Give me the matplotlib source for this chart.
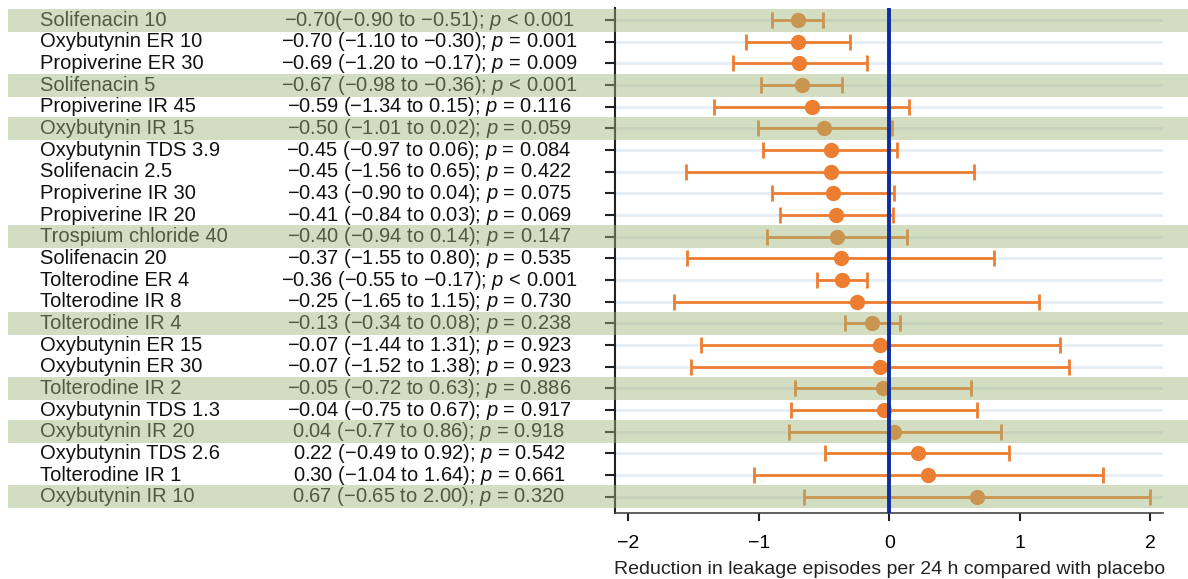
import matplotlib.pyplot as plt
import matplotlib.transforms as mtransforms
import numpy as np

plt.rcParams['font.family'] = ['Liberation Sans', 'DejaVu Sans']
plt.rcParams['mathtext.fontset'] = 'custom'
plt.rcParams['mathtext.rm'] = 'Liberation Sans'
plt.rcParams['mathtext.it'] = 'Liberation Sans:italic'

# Treatments, top to bottom
drugs = ['Solifenacin 10', 'Oxybutynin ER 10', 'Propiverine ER 30', 'Solifenacin 5',
         'Propiverine IR 45', 'Oxybutynin IR 15', 'Oxybutynin TDS 3.9', 'Solifenacin 2.5',
         'Propiverine IR 30', 'Propiverine IR 20', 'Trospium chloride 40', 'Solifenacin 20',
         'Tolterodine ER 4', 'Tolterodine IR 8', 'Tolterodine IR 4', 'Oxybutynin ER 15',
         'Oxybutynin ER 30', 'Tolterodine IR 2', 'Oxybutynin TDS 1.3', 'Oxybutynin IR 20',
         'Oxybutynin TDS 2.6', 'Tolterodine IR 1', 'Oxybutynin IR 10']
estimate = [-0.70, -0.70, -0.69, -0.67, -0.59, -0.50, -0.45, -0.45, -0.43, -0.41, -0.40, -0.37,
            -0.36, -0.25, -0.13, -0.07, -0.07, -0.05, -0.04, 0.04, 0.22, 0.30, 0.67]
ci_low = [-0.90, -1.10, -1.20, -0.98, -1.34, -1.01, -0.97, -1.56, -0.90, -0.84, -0.94, -1.55,
          -0.55, -1.65, -0.34, -1.44, -1.52, -0.72, -0.75, -0.77, -0.49, -1.04, -0.65]
ci_high = [-0.51, -0.30, -0.17, -0.36, 0.15, 0.02, 0.06, 0.65, 0.04, 0.03, 0.14, 0.80,
           -0.17, 1.15, 0.08, 1.31, 1.38, 0.63, 0.67, 0.86, 0.92, 1.64, 2.00]
p_text = ['< 0.001', '= 0.001', '= 0.009', '< 0.001', '= 0.116', '= 0.059', '= 0.084', '= 0.422',
          '= 0.075', '= 0.069', '= 0.147', '= 0.535', '< 0.001', '= 0.730', '= 0.238', '= 0.923',
          '= 0.923', '= 0.886', '= 0.917', '= 0.918', '= 0.542', '= 0.661', '= 0.320']
shaded = [0, 3, 5, 10, 14, 17, 19, 22]
x_ticks = [-2, -1, 0, 1, 2]


def fmt(v):
    return f'{v:.2f}'.replace('-', '\u2212')


est = np.array(estimate)
lo = np.array(ci_low)
hi = np.array(ci_high)
y = np.arange(len(drugs))
orange = '#ED7D31'

fig = plt.figure(figsize=(11.88, 5.79), dpi=100)
ax = fig.add_axes([0.518, 0.114, 0.461, 0.872])

ax.errorbar(est, y, xerr=[est - lo, hi - est], fmt='o', color=orange, ecolor=orange,
            elinewidth=2, capsize=6, capthick=2, markersize=10, zorder=3)
# zero line sits above the bands so it keeps its colour
ax.axvline(0, color='#0A2FA0', lw=2.8, zorder=12)

ax.set_xlim(-2.1, 2.1)
ax.set_ylim(len(drugs) - 0.25, -0.55)
ax.set_yticks(y)
ax.set_yticklabels([])
ax.set_xticks(x_ticks)
ax.set_xticklabels([str(t).replace('-', '\u2212') for t in x_ticks], fontsize=14)
ax.tick_params(axis='y', length=7, width=1.5, color='#222222')
ax.tick_params(axis='x', length=6, width=1.5, color='#222222', pad=10)
ax.grid(axis='y', color='#E6EDF4', lw=2)
ax.set_axisbelow(True)
for s in ['top', 'right']:
    ax.spines[s].set_visible(False)
ax.spines['left'].set_linewidth(1.5)
ax.spines['left'].set_color('#222222')
ax.spines['bottom'].set_linewidth(1.2)
ax.spines['bottom'].set_color('#444444')
ax.set_xlabel('Reduction in leakage episodes per 24 h compared with placebo', fontsize=14,
              labelpad=6, color='#222222')

# left-hand table: names and estimates with 95% CI
trans = mtransforms.blended_transform_factory(fig.transFigure, ax.transData)
for i in range(len(drugs)):
    stats = f'{fmt(est[i])} ({fmt(lo[i])} to {fmt(hi[i])}); $p$ {p_text[i]}'
    if i == 0:
        stats = stats.replace(' (', '(')
    ax.text(40 / 1188, i, drugs[i], transform=trans, fontsize=14.5, va='center', ha='left',
            color='#111111', clip_on=False)
    ax.text(429 / 1188, i, stats, transform=trans, fontsize=14.5, va='center', ha='center',
            color='#111111', clip_on=False)

# translucent green bands laid over the highlighted rows
for i in shaded:
    ax.add_patch(plt.Rectangle((8 / 1188, i - 0.53), 1 - 8 / 1188, 1.06, transform=trans,
                               facecolor='#9FB478', alpha=0.45, lw=0, zorder=10, clip_on=False))

fig.savefig('out.png', dpi=100)
